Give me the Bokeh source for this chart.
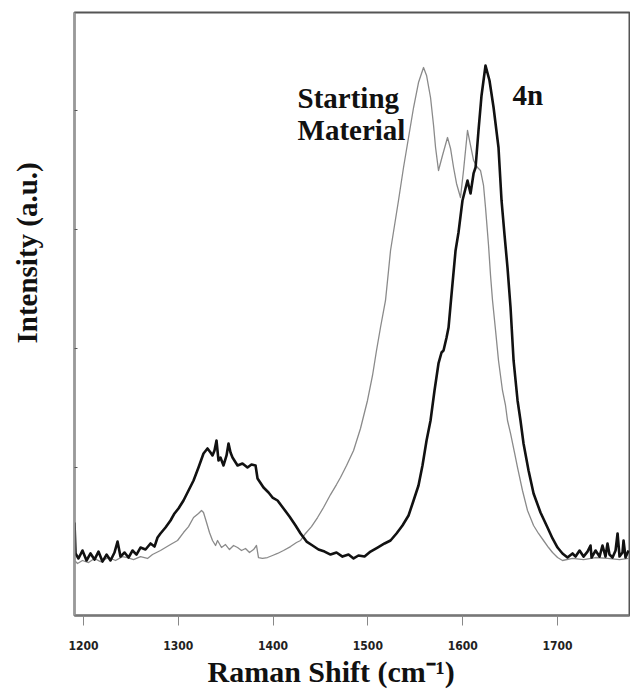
from bokeh.plotting import figure
from bokeh.models import Range1d, FixedTicker, Label, Title
from bokeh.embed import file_html
from bokeh.resources import INLINE

# ---- data ----
shift_4n = [1190.5, 1191.6, 1194.7, 1198.9, 1203.2, 1207.4, 1211.6, 1215.8, 1220.0, 1224.3,
            1228.5, 1232.7, 1235.9, 1239.0, 1243.3, 1247.5, 1251.7, 1255.9, 1260.1, 1265.4,
            1270.7, 1274.9, 1278.1, 1281.2, 1286.5, 1291.8, 1296.0, 1300.2, 1305.5, 1310.8,
            1316.1, 1321.3, 1326.6, 1330.8, 1334.0, 1336.1, 1338.2, 1340.3, 1342.4, 1344.5,
            1347.7, 1350.9, 1353.0, 1355.1, 1357.2, 1362.5, 1367.7, 1373.0, 1377.2, 1381.5,
            1383.6, 1389.9, 1395.2, 1399.4, 1404.7, 1411.0, 1417.3, 1423.7, 1429.0, 1435.3,
            1441.6, 1447.9, 1454.3, 1460.6, 1466.9, 1473.2, 1479.6, 1484.9, 1490.1, 1496.5,
            1502.8, 1510.2, 1517.6, 1523.9, 1530.2, 1536.5, 1542.9, 1548.2, 1553.4, 1557.6,
            1561.9, 1566.1, 1570.3, 1574.5, 1577.7, 1579.8, 1583.0, 1585.1, 1587.2, 1589.3,
            1592.5, 1595.6, 1599.8, 1605.1, 1608.3, 1611.5, 1613.6, 1616.7, 1619.9, 1624.1,
            1628.3, 1632.6, 1637.8, 1641.0, 1644.2, 1647.3, 1650.5, 1653.7, 1657.9, 1661.0,
            1664.2, 1669.5, 1674.8, 1682.1, 1689.5, 1694.8, 1700.1, 1705.3, 1710.6, 1715.9,
            1719.1, 1723.3, 1727.5, 1731.7, 1734.9, 1736.0, 1740.2, 1744.4, 1747.5, 1750.7,
            1752.8, 1754.9, 1758.1, 1761.3, 1763.4, 1765.5, 1768.6, 1769.7, 1771.8, 1775.0]
int_4n = [538, 278, 236, 303, 219, 278, 227, 294, 210, 269,
          219, 286, 378, 252, 286, 244, 303, 269, 328, 311,
          362, 336, 412, 446, 496, 555, 614, 656, 723, 807,
          891, 1000, 1118, 1160, 1126, 1101, 1143, 1227, 1059, 1084,
          1017, 1101, 1202, 1126, 1084, 1017, 1034, 1000, 1025, 1017,
          908, 832, 790, 748, 723, 656, 588, 513, 446, 378,
          345, 311, 294, 269, 286, 252, 269, 236, 261, 252,
          294, 328, 362, 387, 446, 513, 597, 723, 849, 1017,
          1227, 1395, 1647, 1874, 1966, 1983, 2092, 2176, 2361, 2546,
          2823, 2974, 3243, 3411, 3302, 3470, 3520, 3831, 4125, 4377,
          4251, 4024, 3688, 3243, 2949, 2680, 2344, 1899, 1563, 1395,
          1202, 975, 782, 622, 496, 404, 328, 278, 244, 278,
          252, 303, 252, 294, 345, 244, 303, 252, 345, 252,
          362, 269, 244, 303, 446, 252, 286, 387, 244, 303]

shift_sm = [1190.5, 1193.7, 1198.9, 1205.3, 1211.6, 1217.9, 1226.4, 1233.8, 1241.1, 1246.4,
            1252.8, 1260.1, 1267.5, 1272.8, 1277.0, 1281.2, 1286.5, 1291.8, 1299.2, 1305.5,
            1310.8, 1316.1, 1321.3, 1324.5, 1326.6, 1329.8, 1332.9, 1336.1, 1339.3, 1341.4,
            1345.6, 1349.8, 1354.0, 1358.3, 1362.5, 1366.7, 1370.9, 1375.1, 1379.4, 1382.5,
            1384.6, 1388.8, 1394.1, 1399.4, 1404.7, 1411.0, 1418.4, 1424.7, 1429.0, 1434.2,
            1440.5, 1446.9, 1453.2, 1460.6, 1466.9, 1471.1, 1477.5, 1484.9, 1492.2, 1499.6,
            1504.9, 1509.1, 1513.3, 1518.6, 1521.8, 1523.9, 1528.1, 1532.3, 1537.6, 1542.9,
            1548.2, 1553.4, 1558.7, 1561.9, 1566.1, 1569.3, 1571.4, 1574.5, 1578.7, 1584.0,
            1587.2, 1590.4, 1593.5, 1597.7, 1600.9, 1605.1, 1608.3, 1611.5, 1615.7, 1618.8,
            1622.0, 1624.1, 1627.3, 1629.4, 1631.5, 1634.7, 1637.8, 1642.0, 1645.2, 1647.3,
            1650.5, 1654.7, 1657.9, 1663.1, 1668.4, 1674.8, 1680.0, 1685.3, 1690.6, 1694.8,
            1700.1, 1705.3, 1715.9, 1727.5, 1740.2, 1752.8, 1765.5, 1775.0]
int_sm = [219, 194, 219, 202, 236, 210, 244, 219, 252, 244,
          227, 252, 236, 269, 286, 303, 328, 353, 387, 454,
          504, 580, 614, 639, 622, 538, 454, 387, 345, 387,
          328, 353, 311, 345, 328, 303, 320, 286, 311, 345,
          244, 236, 244, 261, 278, 303, 336, 370, 387, 446,
          504, 580, 664, 773, 857, 916, 1017, 1143, 1328, 1563,
          1773, 1983, 2176, 2403, 2655, 2823, 3033, 3243, 3520, 3772,
          4024, 4234, 4360, 4293, 4108, 3873, 3688, 3495, 3621, 3772,
          3680, 3520, 3386, 3268, 3495, 3831, 3705, 3579, 3520, 3495,
          3369, 3184, 2865, 2613, 2403, 2151, 1899, 1647, 1521, 1395,
          1286, 1126, 1000, 807, 639, 513, 446, 387, 328, 286,
          244, 219, 236, 227, 244, 236, 227, 236]

x_ticks = [1200, 1300, 1400, 1500, 1600, 1700]
y_ticks = [1000, 2000, 3000, 4000]

p = figure(width=630, height=690, output_backend="svg", toolbar_location=None,
           x_range=Range1d(1190.5, 1776), y_range=Range1d(-243, 4822),
           min_border_left=74, min_border_right=1, min_border_top=12, min_border_bottom=75)
p.background_fill_color = "white"
p.border_fill_color = "white"
p.grid.visible = False
p.outline_line_color = "#555555"
p.outline_line_width = 2

p.xaxis.ticker = FixedTicker(ticks=x_ticks)
p.xaxis.minor_tick_line_color = None
p.xaxis.major_tick_out = 10
p.xaxis.major_tick_in = 0
p.xaxis.major_tick_line_color = "#888888"
p.xaxis.major_tick_line_width = 1
p.xaxis.axis_line_color = "#777777"
p.xaxis.axis_line_width = 2
p.xaxis.major_label_text_font = "DejaVu Sans Condensed"
p.xaxis.major_label_text_font_style = "bold"
p.xaxis.major_label_text_font_size = "12px"
p.xaxis.major_label_text_color = "#222222"
p.xaxis.major_label_standoff = 15

# y axis: invisible long major ticks reserve space; short inward minor ticks are drawn
p.yaxis.ticker = FixedTicker(ticks=y_ticks, minor_ticks=y_ticks)
p.yaxis.major_tick_in = 0
p.yaxis.major_tick_out = 32
p.yaxis.major_tick_line_color = None
p.yaxis.minor_tick_in = 3
p.yaxis.minor_tick_out = 0
p.yaxis.minor_tick_line_color = "#555555"
p.yaxis.minor_tick_line_width = 1
p.yaxis.major_label_text_color = None
p.yaxis.major_label_text_alpha = 0
p.yaxis.axis_line_color = "#999999"
p.yaxis.axis_line_width = 2

p.line(shift_sm, int_sm, line_color="#8a8a8a", line_width=1.3, line_join="round")
p.line(shift_4n, int_4n, line_color="#111111", line_width=2.6, line_join="round")

font = "Liberation Serif"
for txt, xx, yy in [("Starting", 1425.8, 4108), ("Material", 1425.8, 3831), ("4n", 1652.6, 4125)]:
    p.add_layout(Label(x=xx, y=yy, text=txt, text_font=font, text_font_style="bold",
                       text_font_size="29px", text_color="#111111",
                       text_align="left", text_baseline="alphabetic"))

p.add_layout(Title(text="Raman Shift (cm\u207b\u00b9)", align="left", offset=133, standoff=0,
                   text_font=font, text_font_style="bold", text_font_size="30px",
                   text_color="#111111"), "below")
p.add_layout(Title(text="Intensity (a.u.)", align="left", offset=272, standoff=0,
                   text_font=font, text_font_style="bold", text_font_size="29px",
                   text_color="#111111"), "left")

open("out.html", "w").write(file_html(p, INLINE))
